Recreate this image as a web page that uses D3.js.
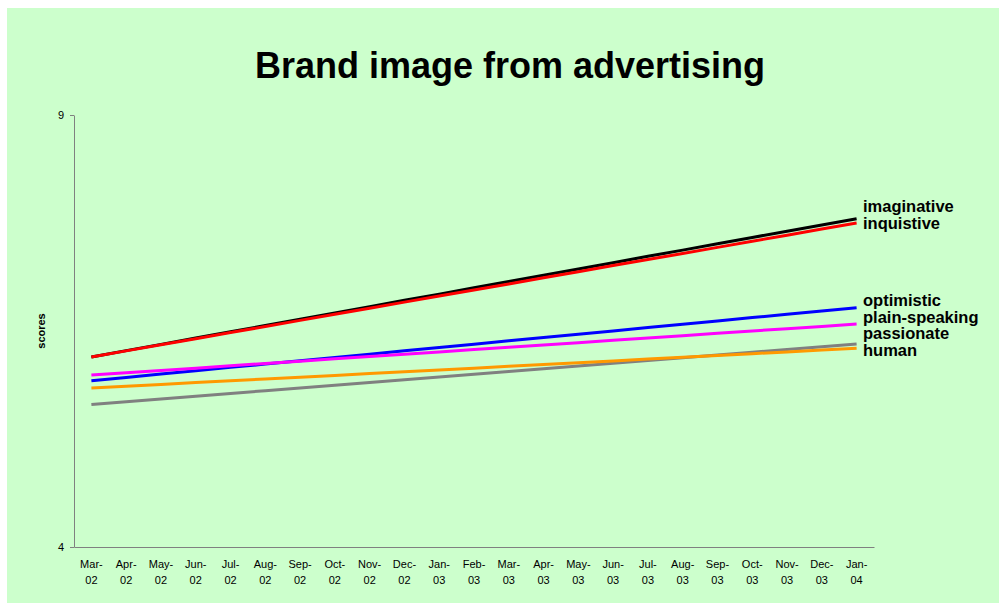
<!DOCTYPE html>
<html>
<head>
<meta charset="utf-8">
<script src="https://cdn.jsdelivr.net/npm/d3@7"></script>
<style>
  body { margin: 0; background: #ffffff; }
  svg { display: block; font-family: "Liberation Sans", Arial, sans-serif; }
</style>
</head>
<body>
<div id="chart"></div>
<script>
// months along the x axis (shown as "Mar-" / "02")
var months = ["Mar-02", "Apr-02", "May-02", "Jun-02", "Jul-02", "Aug-02", "Sep-02", "Oct-02",
              "Nov-02", "Dec-02", "Jan-03", "Feb-03", "Mar-03", "Apr-03", "May-03", "Jun-03",
              "Jul-03", "Aug-03", "Sep-03", "Oct-03", "Nov-03", "Dec-03", "Jan-04"];

var seriesNames = ["imaginative", "inquistive", "optimistic", "plain-speaking", "passionate", "human"];
var seriesColors = ["#000000", "#ff0000", "#0000ff", "#ff00ff", "#808080", "#ff9900"];

// scores, one per month
var imaginative = [6.200, 6.273, 6.345, 6.418, 6.491, 6.564, 6.636, 6.709, 6.782, 6.855, 6.927, 7.000,
                   7.073, 7.145, 7.218, 7.291, 7.364, 7.436, 7.509, 7.582, 7.655, 7.727, 7.800];
var inquistive = [6.200, 6.270, 6.341, 6.411, 6.482, 6.552, 6.623, 6.693, 6.764, 6.834, 6.905, 6.975,
                  7.045, 7.116, 7.186, 7.257, 7.327, 7.398, 7.468, 7.539, 7.609, 7.680, 7.750];
var optimistic = [5.925, 5.963, 6.002, 6.040, 6.079, 6.117, 6.155, 6.194, 6.232, 6.271, 6.309, 6.347,
                  6.386, 6.424, 6.463, 6.501, 6.540, 6.578, 6.616, 6.655, 6.693, 6.732, 6.770];
var plainSpeaking = [5.990, 6.017, 6.044, 6.070, 6.097, 6.124, 6.151, 6.178, 6.205, 6.231, 6.258, 6.285,
                     6.312, 6.339, 6.365, 6.392, 6.419, 6.446, 6.473, 6.500, 6.526, 6.553, 6.580];
var passionate = [5.650, 5.682, 5.714, 5.745, 5.777, 5.809, 5.841, 5.873, 5.905, 5.936, 5.968, 6.000,
                  6.032, 6.064, 6.095, 6.127, 6.159, 6.191, 6.223, 6.255, 6.286, 6.318, 6.350];
var human = [5.840, 5.861, 5.882, 5.903, 5.924, 5.945, 5.965, 5.986, 6.007, 6.028, 6.049, 6.070,
             6.091, 6.112, 6.133, 6.154, 6.175, 6.195, 6.216, 6.237, 6.258, 6.279, 6.300];

var yTicks = [4, 9];

var allValues = [imaginative, inquistive, optimistic, plainSpeaking, passionate, human];

var width = 999, height = 610;

var svg = d3.select("#chart").append("svg")
    .attr("width", width)
    .attr("height", height);

// light green chart area
svg.append("rect")
    .attr("x", 7).attr("y", 8)
    .attr("width", width - 7).attr("height", 595)
    .attr("fill", "#ccffcc");

svg.append("text")
    .attr("x", 510).attr("y", 78)
    .attr("text-anchor", "middle")
    .attr("font-size", 36).attr("font-weight", "bold")
    .text("Brand image from advertising");

var x = d3.scaleBand().domain(months).range([74, 874]).padding(0);
var y = d3.scaleLinear().domain([4, 9]).range([547, 115]);

// y axis
var yAxis = svg.append("g")
    .attr("transform", "translate(74,0)")
    .call(d3.axisLeft(y).tickValues(yTicks).tickSize(4).tickSizeOuter(0).tickPadding(6).tickFormat(d3.format("d")));
yAxis.select(".domain").attr("stroke", "#808080");
yAxis.selectAll(".tick line").attr("stroke", "#808080");
yAxis.selectAll(".tick text").attr("font-size", 11).attr("fill", "#000")
    .attr("font-family", "'Liberation Sans', Arial, sans-serif");

// x axis line, no ticks
var xAxis = svg.append("g")
    .attr("transform", "translate(0,547)")
    .call(d3.axisBottom(x).tickSize(0).tickSizeOuter(0).tickFormat(""));
xAxis.select(".domain").attr("stroke", "#808080");

// two-line month labels
var monthLabels = svg.append("g").selectAll("text")
    .data(months)
    .enter().append("text")
    .attr("text-anchor", "middle")
    .attr("font-size", 11)
    .attr("transform", function (d) { return "translate(" + (x(d) + x.bandwidth() / 2) + ",0)"; });
monthLabels.append("tspan").attr("x", 0).attr("y", 568)
    .text(function (d) { return d.split("-")[0] + "-"; });
monthLabels.append("tspan").attr("x", 0).attr("y", 584)
    .text(function (d) { return d.split("-")[1]; });

// y axis title
svg.append("text")
    .attr("transform", "translate(45,331) rotate(-90)")
    .attr("text-anchor", "middle")
    .attr("font-size", 11).attr("font-weight", "bold")
    .text("scores");

// lines
var line = d3.line()
    .x(function (d, i) { return x(months[i]) + x.bandwidth() / 2; })
    .y(function (d) { return y(d); });

svg.append("g").selectAll("path")
    .data(allValues)
    .enter().append("path")
    .attr("d", line)
    .attr("fill", "none")
    .attr("stroke", function (d, i) { return seriesColors[i]; })
    .attr("stroke-width", 3);

// end labels, pushed apart so they don't overlap
var labelItems = seriesNames.map(function (name, i) {
    var vals = allValues[i];
    return { name: name, target: y(vals[vals.length - 1]) };
});

function dodge(items, gap) {
    var sorted = items.slice().sort(function (a, b) { return a.target - b.target; });
    var clusters = sorted.map(function (d) { return { items: [d] }; });
    function center(c) { return d3.mean(c.items, function (d) { return d.target; }); }
    function top(c) { return center(c) - (c.items.length - 1) * gap / 2; }
    function bottom(c) { return center(c) + (c.items.length - 1) * gap / 2; }
    var merged = true;
    while (merged) {
        merged = false;
        for (var i = 0; i < clusters.length - 1; i++) {
            if (bottom(clusters[i]) + gap > top(clusters[i + 1])) {
                clusters[i].items = clusters[i].items.concat(clusters[i + 1].items);
                clusters.splice(i + 1, 1);
                merged = true;
                break;
            }
        }
    }
    clusters.forEach(function (c) {
        var t = top(c);
        c.items.forEach(function (d, k) { d.pos = t + k * gap; });
    });
}
dodge(labelItems, 16.8);

svg.append("g").selectAll("text")
    .data(labelItems)
    .enter().append("text")
    .attr("x", 863)
    .attr("y", function (d) { return d.pos; })
    .attr("font-size", 16.5).attr("font-weight", "bold")
    .text(function (d) { return d.name; });
</script>
</body>
</html>
